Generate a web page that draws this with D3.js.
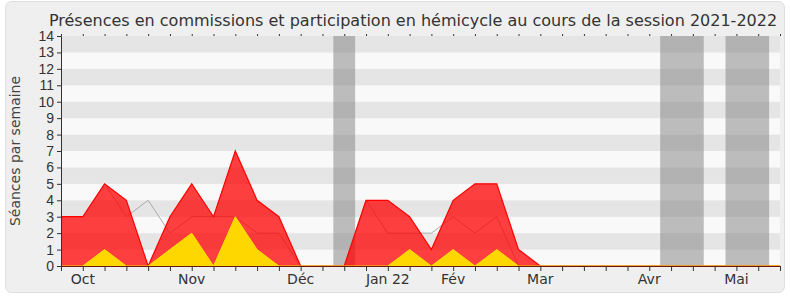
<!DOCTYPE html>
<html>
<head>
<meta charset="utf-8">
<script src="https://cdn.jsdelivr.net/npm/d3@7"></script>
<style>
  body { margin: 0; background: #fff; }
  svg { font-family: "DejaVu Sans", Verdana, sans-serif; }
</style>
</head>
<body>
<script>
// weekly data, index 0 = first week of the session
let weeks = d3.range(0, 34)
let presences = [3, 3, 5, 4, 0, 3, 5, 3, 7, 4, 3, 0, 0, 0, 4, 4, 3, 1, 4, 5, 5, 1, 0, 0, 0, 0, 0, 0, 0, 0, 0, 0, 0, 0]
let hemicycle = [0, 0, 1, 0, 0, 1, 2, 0, 3, 1, 0, 0, 0, 0, 0, 0, 1, 0, 1, 0, 1, 0, 0, 0, 0, 0, 0, 0, 0, 0, 0, 0, 0, 0]
let mediane = [3, 3, 5, 3, 4, 2, 3, 3, 3, 2, 2, 0, 0, 0, 4, 2, 2, 2, 3, 2, 3, 0, 0, 0, 0, 0, 0, 0, 0, 0, 0, 0, 0, 0]
let vacances = [[12.5, 13.5], [27.5, 29.5], [30.5, 32.5]]
let monthWeeks = [1, 6, 11, 15, 18, 22, 27, 31]
let monthLabels = ['Oct', 'Nov', 'Déc', 'Jan 22', 'Fév', 'Mar', 'Avr', 'Mai']
let yTicks = d3.range(0, 15)

var margin = { top: 36, right: 10, bottom: 34, left: 61 },
    width = 790 - margin.left - margin.right,
    height = 300 - margin.top - margin.bottom

var svg = d3.select('body').append('svg')
    .attr('width', 790)
    .attr('height', 300)

svg.append('rect')
    .attr('x', 5.5).attr('y', 1.5)
    .attr('width', 779).attr('height', 291)
    .attr('rx', 6)
    .attr('fill', '#efefef')
    .attr('stroke', '#dedede')

svg.append('text')
    .attr('x', 413).attr('y', 26)
    .attr('text-anchor', 'middle')
    .attr('font-size', 16)
    .attr('fill', '#333')
    .text('Présences en commissions et participation en hémicycle au cours de la session 2021-2022')

svg.append('text')
    .attr('transform', 'translate(20,' + (margin.top + height / 2) + ') rotate(-90)')
    .attr('text-anchor', 'middle')
    .attr('font-size', 14)
    .attr('fill', '#444')
    .text('Séances par semaine')

var g = svg.append('g')
    .attr('transform', 'translate(' + margin.left + ',' + margin.top + ')')

var x = d3.scaleLinear().domain([0, 33]).range([0, width])
var y = d3.scaleLinear().domain([0, 14]).range([height, 0])

// stripes
g.selectAll('.band')
    .data(d3.range(0, 14))
    .enter()
    .append('rect')
    .attr('x', 0)
    .attr('y', d => y(d + 1))
    .attr('width', width)
    .attr('height', d => y(d) - y(d + 1))
    .attr('fill', d => d % 2 == 1 ? '#e5e5e5' : '#f9f9f9')

// vacations
g.selectAll('.vac')
    .data(vacances)
    .enter()
    .append('rect')
    .attr('x', d => x(d[0]))
    .attr('y', 0)
    .attr('width', d => x(d[1]) - x(d[0]))
    .attr('height', height)
    .attr('fill', 'rgba(128,128,128,0.5)')

var line = d3.line()
    .x((d, i) => x(weeks[i]))
    .y(d => y(d))

var area = d3.area()
    .x((d, i) => x(weeks[i]))
    .y0(height)
    .y1(d => y(d))

g.append('path')
    .datum(mediane)
    .attr('d', line)
    .attr('fill', 'none')
    .attr('stroke', '#aaa')
    .attr('stroke-width', 1)

g.append('path')
    .datum(presences)
    .attr('d', area)
    .attr('fill', 'rgba(255,0,0,0.75)')

g.append('path')
    .datum(presences)
    .attr('d', line)
    .attr('fill', 'none')
    .attr('stroke', '#ff0000')
    .attr('stroke-width', 1.2)

g.append('path')
    .datum(hemicycle)
    .attr('d', area)
    .attr('fill', '#ffd700')

g.append('path')
    .datum(hemicycle)
    .attr('d', line)
    .attr('fill', 'none')
    .attr('stroke', '#ffe000')
    .attr('stroke-width', 1)

// axes
var yAxis = d3.axisLeft(y)
    .tickValues(yTicks)
    .tickSize(4)
    .tickPadding(3)

var yg = g.append('g').call(yAxis)
yg.selectAll('text').attr('font-size', 14).attr('fill', '#333').attr('font-family', null)
yg.selectAll('line').attr('stroke', '#333')
yg.select('.domain').attr('stroke', '#333')

var xAxis = d3.axisBottom(x)
    .tickValues(weeks)
    .tickSize(5)
    .tickFormat('')

var xg = g.append('g')
    .attr('transform', 'translate(0,' + height + ')')
    .call(xAxis)
xg.selectAll('line').attr('stroke', '#333')
xg.select('.domain').attr('stroke', '#6a1a0a')

var xTop = d3.axisTop(x)
    .tickValues(weeks)
    .tickSize(2)
    .tickSizeOuter(0)
    .tickFormat('')
var xt = g.append('g').call(xTop)
xt.select('.domain').remove()
xt.selectAll('line').attr('stroke', '#333')

g.selectAll('.month')
    .data(monthWeeks)
    .enter()
    .append('text')
    .attr('x', d => x(d))
    .attr('y', height + 18)
    .attr('text-anchor', 'middle')
    .attr('font-size', 14)
    .attr('fill', '#333')
    .text((d, i) => monthLabels[i])
</script>
</body>
</html>
